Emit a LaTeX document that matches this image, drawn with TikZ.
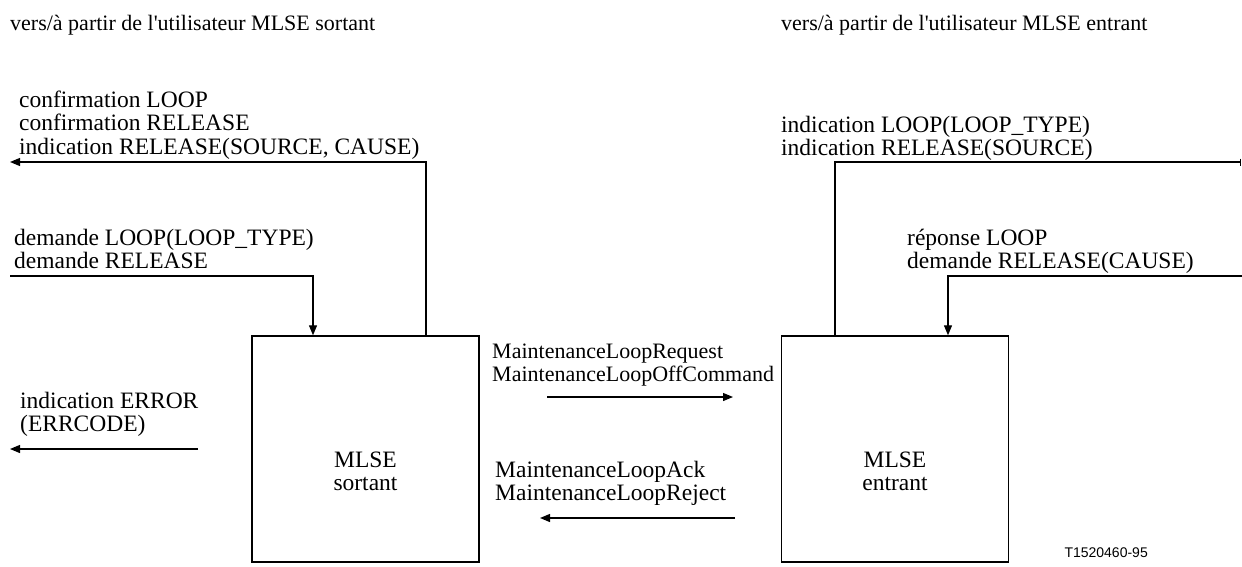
\documentclass[tikz,border=0pt]{standalone}
\usepackage{fontspec}
\setmainfont{Liberation Serif}
\newfontfamily\sansf{Liberation Sans}
\usetikzlibrary{arrows.meta}
\begin{document}
\begin{tikzpicture}[x=1pt,y=-1pt,
  lbl/.style={anchor=base west,inner sep=0pt,font=\fontsize{23.5}{24}\selectfont},
  hdr/.style={anchor=base west,inner sep=0pt,font=\fontsize{22}{23}\selectfont},
  sml/.style={anchor=base west,inner sep=0pt,font=\fontsize{22}{23}\selectfont},
  ctr/.style={anchor=base,inner sep=0pt,font=\fontsize{23.5}{24}\selectfont},
  boxst/.style={draw,line width=1.4pt,minimum width=227pt,minimum height=226pt,inner sep=0pt},
  ln/.style={line width=1.2pt},
  arr/.style={ln,-{Triangle[length=10pt,width=8pt]}},
  tick/.style={ln,-{Bar[width=7pt]}}]
\useasboundingbox (0,0) rectangle (1242,567);
% headers
\node[hdr] (h1) at (10,31) {vers/à partir de l\textquotesingle utilisateur MLSE sortant};
\node[hdr] (h2) at (781,31) {vers/à partir de l\textquotesingle utilisateur MLSE entrant};
% left texts
\node[lbl] (t1) at (19,108) {confirmation LOOP};
\node[lbl] (t2) at (19,131) {confirmation RELEASE};
\node[lbl] (t3) at (19,154) {indication RELEASE(SOURCE, CAUSE)};
\node[lbl] (t4) at (14,245) {demande LOOP(LOOP\_TYPE)};
\node[lbl] (t5) at (14,268) {demande RELEASE};
\node[lbl] (t6) at (20,408) {indication ERROR};
\node[lbl] (t7) at (20,431) {(ERRCODE)};
% right texts
\node[lbl] (r1) at (781,132) {indication LOOP(LOOP\_TYPE)};
\node[lbl] (r2) at (781,155) {indication RELEASE(SOURCE)};
\node[lbl] (r3) at (907,245) {réponse LOOP};
\node[lbl] (r4) at (907,268) {demande RELEASE(CAUSE)};
% middle texts
\node[sml] (m1) at (492,358) {MaintenanceLoopRequest};
\node[sml] (m2) at (492,381) {MaintenanceLoopOffCommand};
\node[lbl] (m3) at (495,477) {MaintenanceLoopAck};
\node[lbl] (m4) at (495,500) {MaintenanceLoopReject};
% boxes
\node[boxst] (b1) at (365.5,449) {};
\node[boxst] (b2) at (895,449) {};
\node[ctr] (b1a) at (365.5,467) {MLSE};
\node[ctr] (b1b) at (365.5,490) {sortant};
\node[ctr] (b2a) at (895,467) {MLSE};
\node[ctr] (b2b) at (895,490) {entrant};
% figure code
\node[anchor=base east,inner sep=0pt,font=\sansf\fontsize{14}{16}\selectfont] (code) at (1148,557) {T1520460-95};
% coordinates
\coordinate (c1) at (426,162);
\coordinate (c1e) at (10,162);
\coordinate (d1s) at (10,276);
\coordinate (d1) at (313,276);
\coordinate (c2) at (835,162);
\coordinate (c2e) at (1241,162);
\coordinate (d2s) at (1242,276);
\coordinate (d2) at (948,276);
\coordinate (e1s) at (198,449);
\coordinate (e1e) at (10,449);
\coordinate (q1s) at (547,397);
\coordinate (q1e) at (733,397);
\coordinate (a1s) at (735,518);
\coordinate (a1e) at (540,518);
% connectors
\draw[arr] (b1.north -| c1) |- (c1e);
\draw[arr] (d1s) -| (b1.north -| d1);
\draw[tick] (b2.north -| c2) |- (c2e);
\draw[arr] (d2s) -| (b2.north -| d2);
\draw[arr] (e1s) -- (e1e);
\draw[arr] (q1s) -- (q1e);
\draw[arr] (a1s) -- (a1e);
\end{tikzpicture}
\end{document}
